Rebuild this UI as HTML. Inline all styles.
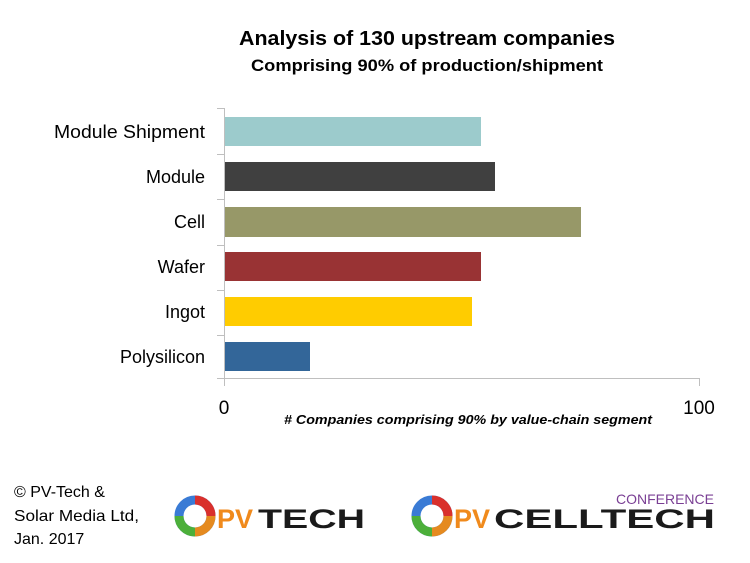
<!DOCTYPE html>
<html><head><meta charset="utf-8"><style>
body{margin:0;background:#fff;}
svg{display:block;font-family:"Liberation Sans",sans-serif;}
</style></head><body>
<svg width="750" height="563" viewBox="0 0 750 563">
<text x="427" y="45" text-anchor="middle" font-size="20" font-weight="bold" fill="#000" textLength="376" lengthAdjust="spacingAndGlyphs">Analysis of 130 upstream companies</text>
<text x="427" y="71" text-anchor="middle" font-size="17" font-weight="bold" fill="#000" textLength="352" lengthAdjust="spacingAndGlyphs">Comprising 90% of production/shipment</text>
<g stroke="#bfbfbf" stroke-width="1">
<line x1="224.5" y1="108" x2="224.5" y2="386"/>
<line x1="224" y1="378.5" x2="699" y2="378.5"/>
<line x1="699.5" y1="378" x2="699.5" y2="386"/>
<line x1="217" y1="108.5" x2="224" y2="108.5"/>
<line x1="217" y1="154.5" x2="224" y2="154.5"/>
<line x1="217" y1="199.5" x2="224" y2="199.5"/>
<line x1="217" y1="245.5" x2="224" y2="245.5"/>
<line x1="217" y1="290.5" x2="224" y2="290.5"/>
<line x1="217" y1="335.5" x2="224" y2="335.5"/>
<line x1="217" y1="378.5" x2="224" y2="378.5"/>
</g>
<rect x="225" y="117" width="256" height="29" fill="#9ccbcc"/>
<rect x="225" y="162" width="270" height="29" fill="#404040"/>
<rect x="225" y="207" width="356" height="30" fill="#979868"/>
<rect x="225" y="252" width="256" height="29" fill="#993334"/>
<rect x="225" y="297" width="247" height="29" fill="#ffcc00"/>
<rect x="225" y="342" width="85" height="29" fill="#336699"/>
<g font-size="18" fill="#000" text-anchor="end">
<text x="205" y="138" textLength="151" lengthAdjust="spacingAndGlyphs">Module Shipment</text>
<text x="205" y="183">Module</text>
<text x="205" y="228">Cell</text>
<text x="205" y="273">Wafer</text>
<text x="205" y="318">Ingot</text>
<text x="205" y="363">Polysilicon</text>
</g>
<text x="224" y="414" text-anchor="middle" font-size="19">0</text>
<text x="699" y="414" text-anchor="middle" font-size="19">100</text>
<text x="468" y="424" text-anchor="middle" font-size="13" font-weight="bold" font-style="italic" textLength="368" lengthAdjust="spacingAndGlyphs">#  Companies  comprising  90%  by  value-chain  segment</text>
<g font-size="16" fill="#000">
<text x="14" y="497">© PV-Tech &amp;</text>
<text x="14" y="521" textLength="125" lengthAdjust="spacingAndGlyphs">Solar Media Ltd,</text>
<text x="14" y="544">Jan. 2017</text>
</g>
<g>
<circle cx="195" cy="516" r="16" fill="none" stroke="#3a7bd5" stroke-width="9"/>
<path d="M195 500 A16 16 0 0 1 211 516" fill="none" stroke="#d9302c" stroke-width="9"/>
<path d="M211 516 A16 16 0 0 1 195 532" fill="none" stroke="#e58a1f" stroke-width="9"/>
<path d="M195 532 A16 16 0 0 1 179 516" fill="none" stroke="#4caf3a" stroke-width="9"/>
<text x="217" y="528" font-size="27" font-weight="bold" fill="#f08a1c">PV</text>
<text x="258" y="528" font-size="27" font-weight="bold" fill="#1a1a1a" textLength="107" lengthAdjust="spacingAndGlyphs">TECH</text>
</g>
<g>
<circle cx="432" cy="516" r="16" fill="none" stroke="#3a7bd5" stroke-width="9"/>
<path d="M432 500 A16 16 0 0 1 448 516" fill="none" stroke="#d9302c" stroke-width="9"/>
<path d="M448 516 A16 16 0 0 1 432 532" fill="none" stroke="#e58a1f" stroke-width="9"/>
<path d="M432 532 A16 16 0 0 1 416 516" fill="none" stroke="#4caf3a" stroke-width="9"/>
<text x="714" y="504" text-anchor="end" font-size="14" fill="#7a3f94">CONFERENCE</text>
<text x="454" y="528" font-size="27" font-weight="bold" fill="#f08a1c">PV</text>
<text x="494" y="528" font-size="27" font-weight="bold" fill="#1a1a1a" textLength="221" lengthAdjust="spacingAndGlyphs">CELLTECH</text>
</g>
</svg>
</body></html>
